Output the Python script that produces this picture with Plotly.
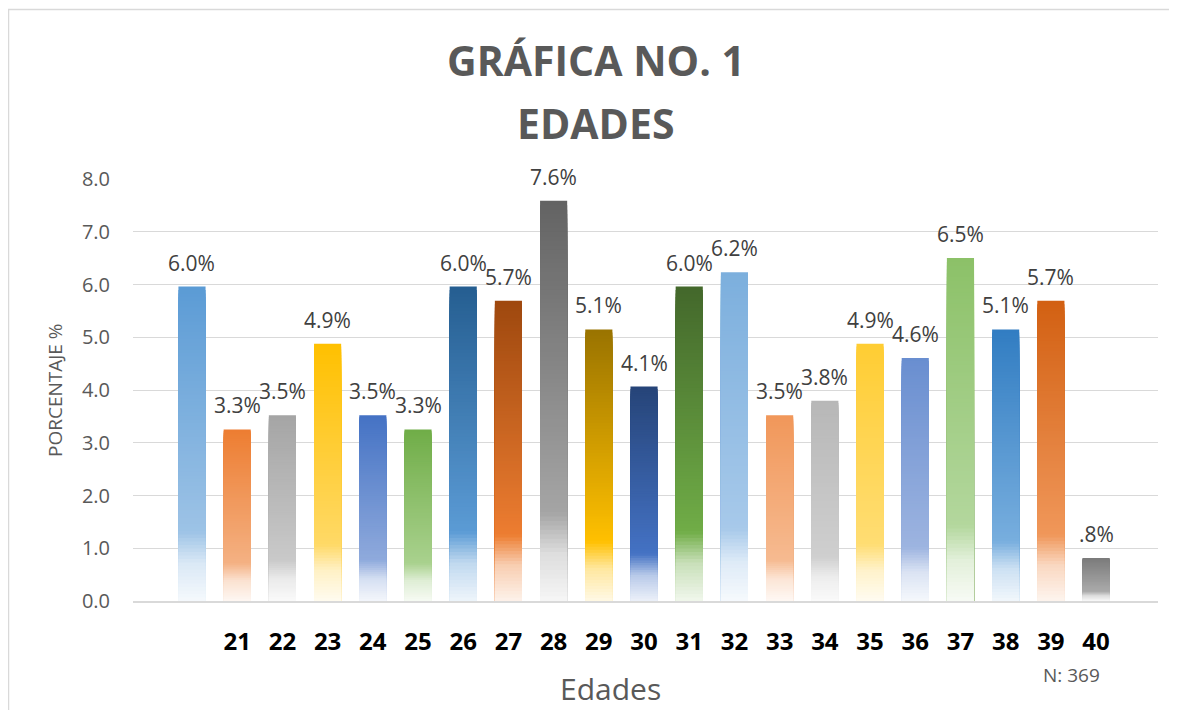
import plotly.graph_objects as go

# ---------------- data ----------------
categories = ["", "21", "22", "23", "24", "25", "26", "27", "28", "29", "30",
              "31", "32", "33", "34", "35", "36", "37", "38", "39", "40"]
percentages = [5.962, 3.252, 3.523, 4.878, 3.523, 3.252, 5.962, 5.691, 7.588, 5.149, 4.065,
               5.962, 6.233, 3.523, 3.794, 4.878, 4.607, 6.504, 5.149, 5.691, 0.813]
y_ticks = [0, 1, 2, 3, 4, 5, 6, 7, 8]
n_total = "N: 369"

# ---------------- styles ----------------
top_colors = ["#5B9BD5", "#ED7D31", "#A5A5A5", "#FFC000", "#4472C4", "#70AD47",
              "#255E91", "#9E480E", "#636363", "#997300", "#264478", "#43682B",
              "#7CAFDD", "#F1975A", "#B7B7B7", "#FFCD33", "#698ED0", "#8CC168",
              "#327DC2", "#D26012", "#7B7B7B"]
mid_colors = ["#9DC3E6", "#F4B183", "#C9C9C9", "#FFD966", "#8FAADC", "#A9D18E",
              "#5B9BD5", "#ED7D31", "#A5A5A5", "#FFC000", "#4472C4", "#70AD47",
              "#A7C9EA", "#F6BA90", "#CFCFCF", "#FFDD73", "#9DB4E0", "#B3D79D",
              "#78AEDE", "#F0975A", "#ABABAB"]


def hex2rgb(h):
    h = h.lstrip("#")
    return [int(h[i:i + 2], 16) for i in (0, 2, 4)]


def tint(rgb, t):
    return [c + (255 - c) * t for c in rgb]


def mix(a, b, t):
    return [a[i] + (b[i] - a[i]) * t for i in range(3)]


def color_at(f, top, mid):
    # f: fraction of bar height from bottom
    top_c = hex2rgb(top)
    mid_c = hex2rgb(mid)
    low_c = tint(mid_c, 0.62)
    bot_c = tint(mid_c, 0.9)
    stops = [(0.0, bot_c), (0.12, low_c), (0.22, mid_c), (1.0, top_c)]
    for (f0, c0), (f1, c1) in zip(stops[:-1], stops[1:]):
        if f <= f1:
            t = (f - f0) / (f1 - f0)
            c = mix(c0, c1, max(0.0, min(1.0, t)))
            return "rgb(%d,%d,%d)" % tuple(round(v) for v in c)
    return "rgb(%d,%d,%d)" % tuple(top_c)


N_SLICES = 90
xs, ys, cols = [], [], []
for i, v in enumerate(percentages):
    for k in range(N_SLICES, 0, -1):
        f = k / N_SLICES
        xs.append(i)
        ys.append(v * f)
        cols.append(color_at(f - 0.5 / N_SLICES, top_colors[i], mid_colors[i]))

fig = go.Figure()
fig.add_trace(go.Bar(
    x=xs, y=ys, base=0, width=0.6,
    marker=dict(color=cols, line=dict(width=0)),
    hoverinfo="skip", showlegend=False,
))


def fmt(v):
    s = "%.1f%%" % v
    return s[1:] if s.startswith("0") else s


annotations = []
for i, v in enumerate(percentages):
    annotations.append(dict(
        x=i, y=v, xref="x", yref="y", text=fmt(v), showarrow=False,
        yshift=24, yanchor="middle",
        font=dict(family="Open Sans", size=21, color="#404040"),
    ))

# page has an 8px body margin: figure origin sits at (8, 8) of the window
OFF = 8
W, H = 1177 - OFF, 710 - OFF
L, R, T, B = 133 - OFF, 19, 179 - OFF, 109
PW, PH = W - L - R, H - T - B


def px(xp):
    return (xp - OFF - L) / PW


def py(yp):
    return (H - B - (yp - OFF)) / PH


annotations += [
    dict(x=px(596), y=py(60), xref="paper", yref="paper", text="<b>GRÁFICA NO. 1</b>",
         showarrow=False, xanchor="center", yanchor="middle",
         font=dict(family="Open Sans", size=41, color="#595959")),
    dict(x=px(596), y=py(123), xref="paper", yref="paper", text="<b>EDADES</b>",
         showarrow=False, xanchor="center", yanchor="middle",
         font=dict(family="Open Sans", size=41, color="#595959")),
    dict(x=px(55), y=py(390), xref="paper", yref="paper", text="PORCENTAJE %",
         showarrow=False, textangle=-90, xanchor="center", yanchor="middle",
         font=dict(family="Open Sans", size=19, color="#595959")),
    dict(x=px(610), y=py(688), xref="paper", yref="paper", text="Edades",
         showarrow=False, xanchor="center", yanchor="middle",
         font=dict(family="Open Sans", size=30, color="#595959")),
    dict(x=px(1071), y=py(675), xref="paper", yref="paper", text=n_total,
         showarrow=False, xanchor="center", yanchor="middle",
         font=dict(family="Open Sans", size=19, color="#595959")),
]

fig.update_layout(
    width=W, height=H,
    margin=dict(l=L, r=R, t=T, b=B, pad=0),
    paper_bgcolor="white", plot_bgcolor="white",
    barmode="overlay",
    annotations=annotations,
    shapes=[dict(type="rect", xref="paper", yref="paper",
                 x0=px(8.5), x1=px(1185), y0=py(9.5), y1=py(720),
                 line=dict(color="#D9D9D9", width=1.5), fillcolor="rgba(0,0,0,0)",
                 layer="below")],
)
fig.update_xaxes(
    range=[-1.305, 21.37],
    tickvals=list(range(len(categories))), ticktext=categories,
    showgrid=False, zeroline=False,
    showline=True, linecolor="#D9D9D9", linewidth=1.5,
    ticks="", ticklabelstandoff=18,
    tickfont=dict(family="Open Sans", size=24, color="#000000", weight="bold"),
)
fig.update_yaxes(
    range=[0, 8], tickvals=y_ticks, tickformat=".1f",
    showgrid=True, gridcolor="#D9D9D9", gridwidth=1.2,
    zeroline=False, showline=False, ticks="",
    ticklabelstandoff=22,
    tickfont=dict(family="Open Sans", size=20, color="#595959"),
)

fig.write_html("out.html")
